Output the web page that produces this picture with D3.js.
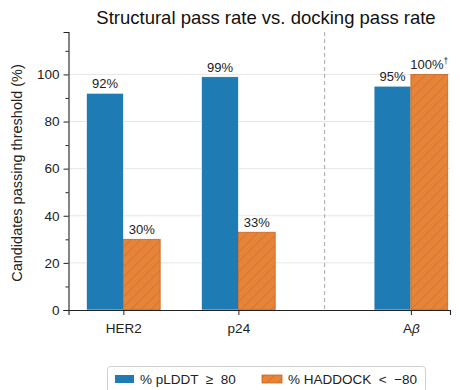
<!DOCTYPE html>
<html>
<head>
<meta charset="utf-8">
<script src="https://cdn.jsdelivr.net/npm/d3@7"></script>
<style>
  body { margin: 0; background: #fff; }
  svg { font-family: "Liberation Sans", Arial, sans-serif; display: block; }
</style>
</head>
<body>
<svg></svg>
<script>
// data
const targets = ["HER2", "p24", "Aβ"]
const targetPos = [0, 1, 2.5]
const plddtPass = [92, 99, 95]
const haddockPass = [30, 33, 100]
const haddockNote = ["", "", "†"]
const yTicks = [0, 20, 40, 60, 80, 100]
const yMinor = [10, 30, 50, 70, 90, 110]
const seriesNames = ["% pLDDT \u00a0\u2265\u00a0 80", "% HADDOCK \u00a0<\u00a0 \u221280"]

const blue = "#1f7bb4"
const orange = "#e6843a"
const orangeDark = "#c9651f"

let margin = { top: 32, right: 10, bottom: 80, left: 68.5 }
let width = 460 - margin.left - margin.right
let height = 390 - margin.top - margin.bottom

let svg = d3.select('svg').attr('width', 460).attr('height', 390)

let defs = svg.append('defs')
let pat = defs.append('pattern')
    .attr('id', 'hatch')
    .attr('patternUnits', 'userSpaceOnUse')
    .attr('width', 10).attr('height', 10)
pat.append('rect').attr('width', 10).attr('height', 10).attr('fill', orange)
pat.append('path')
    .attr('d', 'M-2,12 L12,-2 M-2,2 L2,-2 M8,12 L12,8')
    .attr('stroke', orangeDark).attr('stroke-width', 0.9).attr('opacity', 0.75)

let chart = svg.append('g')
    .attr('transform', 'translate(' + margin.left + ',' + margin.top + ')')

let x = d3.scaleLinear().domain([-0.477, 2.84]).range([0, width])
let y = d3.scaleLinear().domain([0, 118]).range([height, 0])
let barW = 0.32

// grid
chart.append('g').selectAll('line')
    .data(yTicks.slice(1))
    .enter().append('line')
    .attr('x1', 0).attr('x2', width)
    .attr('y1', d => y(d)).attr('y2', d => y(d))
    .attr('stroke', '#e6e6e6').attr('stroke-width', 1)

// separator between the two groups
chart.append('line')
    .attr('x1', x(1.75)).attr('x2', x(1.75))
    .attr('y1', 0).attr('y2', height)
    .attr('stroke', '#a8a8a8').attr('stroke-width', 1)
    .attr('stroke-dasharray', '4,3')

let groups = chart.selectAll('.grp')
    .data(targets.map((t, i) => ({ t, pos: targetPos[i], p: plddtPass[i], h: haddockPass[i], note: haddockNote[i] })))
    .enter().append('g')

groups.append('rect')
    .attr('x', d => x(d.pos - barW))
    .attr('y', d => y(d.p))
    .attr('width', x(barW) - x(0))
    .attr('height', d => height - y(d.p))
    .attr('fill', blue)
    .attr('stroke', '#fff').attr('stroke-width', 0.6)

groups.append('rect')
    .attr('x', d => x(d.pos))
    .attr('y', d => y(d.h))
    .attr('width', x(barW) - x(0))
    .attr('height', d => height - y(d.h))
    .attr('fill', 'url(#hatch)')
    .attr('stroke', orangeDark).attr('stroke-width', 0.8)

groups.append('text')
    .attr('x', d => x(d.pos - barW / 2))
    .attr('y', d => y(d.p) - 5)
    .attr('text-anchor', 'middle')
    .attr('font-size', 13)
    .attr('fill', '#222')
    .text(d => d.p + '%')

let hl = groups.append('text')
    .attr('x', d => x(d.pos + barW / 2))
    .attr('y', d => y(d.h) - 5)
    .attr('text-anchor', 'middle')
    .attr('font-size', 13)
    .attr('fill', '#222')
hl.append('tspan').text(d => d.h + '%')
hl.append('tspan').attr('dy', -5).attr('font-size', 8.5).text(d => d.note)

// axes
let yAxis = chart.append('g').attr('class', 'axis y')
    .call(d3.axisLeft(y).tickValues(yTicks).tickSize(5).tickPadding(4))
chart.append('g').attr('class', 'axis')
    .call(d3.axisLeft(y).tickValues(yMinor).tickSize(3).tickFormat(''))
    .call(g => g.select('.domain').remove())

let xAxis = chart.append('g').attr('class', 'axis x')
    .attr('transform', 'translate(0,' + height + ')')
    .call(d3.axisBottom(x).tickValues(targetPos).tickSize(5).tickPadding(8).tickFormat(() => ''))

xAxis.selectAll('.tick text').each(function (d, i) {
  let t = d3.select(this)
  let name = targets[i]
  if (name === 'Aβ') {
    t.append('tspan').text('A')
    t.append('tspan').attr('font-style', 'italic').text('β')
  } else {
    t.text(name)
  }
})

svg.selectAll('.axis path, .axis line').attr('stroke', '#222')
svg.selectAll('.axis .domain').attr('stroke-width', 1.1)
svg.selectAll('.axis text').attr('font-size', 13.5).attr('fill', '#222').attr('font-family', null)

// y label
svg.append('text')
    .attr('transform', 'translate(22,' + (margin.top + height / 2 + 2) + ') rotate(-90)')
    .attr('text-anchor', 'middle')
    .attr('font-size', 14.5)
    .attr('fill', '#222')
    .text('Candidates passing threshold (%)')

// title
svg.append('text')
    .attr('x', 266).attr('y', 24)
    .attr('text-anchor', 'middle')
    .attr('font-size', 18.5)
    .attr('fill', '#111')
    .text('Structural pass rate vs. docking pass rate')

// legend
let leg = svg.append('g')
leg.append('rect')
    .attr('x', 107.5).attr('y', 366.5).attr('width', 318).attr('height', 34).attr('rx', 3)
    .attr('fill', '#fff').attr('stroke', '#d0d0d0')
leg.append('rect').attr('x', 115).attr('y', 375).attr('width', 19).attr('height', 8).attr('fill', blue)
leg.append('rect').attr('x', 262).attr('y', 375).attr('width', 20).attr('height', 8)
    .attr('fill', 'url(#hatch)').attr('stroke', orangeDark).attr('stroke-width', 0.8)
leg.selectAll('.lt')
    .data(seriesNames)
    .enter().append('text')
    .attr('x', (d, i) => i === 0 ? 140 : 288)
    .attr('y', 384)
    .attr('font-size', 13.5)
    .attr('fill', '#222')
    .text(d => d)
</script>
</body>
</html>
